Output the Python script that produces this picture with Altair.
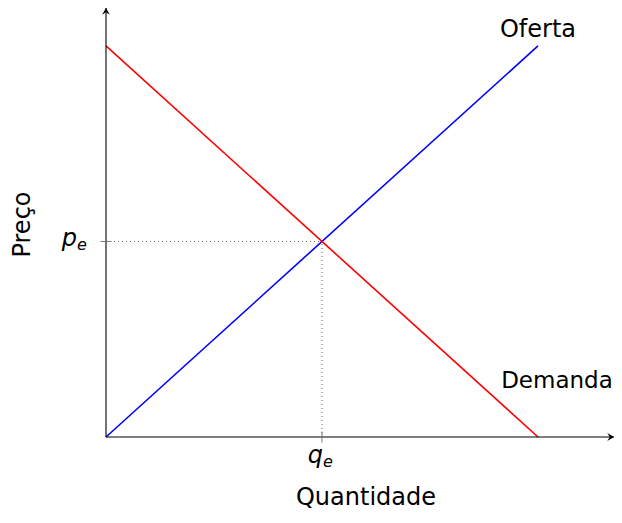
import altair as alt
import pandas as pd

# ---- data ----
quantity = [0, 10]
supply_price = [0, 10]
demand_price = [10, 0]
q_e = 5
p_e = 5
x_max = 11.76
y_max = 10.97

FONT = "DejaVu Sans"
W, H = 508, 429

xs = alt.Scale(domain=[0, x_max], nice=False, zero=False)
ys = alt.Scale(domain=[0, y_max], nice=False, zero=False)


def X(f="x"):
    return alt.X(f"{f}:Q", scale=xs, axis=None)


def Y(f="y"):
    return alt.Y(f"{f}:Q", scale=ys, axis=None)


lines_df = pd.DataFrame({
    "x": quantity + quantity,
    "y": supply_price + demand_price,
    "curva": ["Oferta"] * 2 + ["Demanda"] * 2,
})

curves = alt.Chart(lines_df).mark_line(strokeWidth=1.6).encode(
    x=X("x"), y=Y("y"), detail="curva:N",
    color=alt.Color("curva:N", scale=alt.Scale(domain=["Oferta", "Demanda"], range=["#0000ff", "#ff0000"]), legend=None),
)

dotted_df = pd.DataFrame({"x": [0, q_e], "y": [p_e, 0], "x2": [q_e, q_e], "y2": [p_e, p_e]})
dotted = alt.Chart(dotted_df).mark_rule(strokeDash=[1, 3], color="#666", strokeWidth=1).encode(
    x=X(), y=Y(), x2="x2:Q", y2="y2:Q")

axes_df = pd.DataFrame({"x": [0, 0], "y": [0, 0], "x2": [x_max, 0], "y2": [0, y_max]})
axes = alt.Chart(axes_df).mark_rule(color="black", strokeWidth=1.1).encode(
    x=X(), y=Y(), x2="x2:Q", y2="y2:Q")

arrow_up = "M0,0 L-0.55,0.95 L0,0.6 L0.55,0.95 Z"
arrow_right = "M0,0 L-0.95,-0.55 L-0.6,0 L-0.95,0.55 Z"
arrows = alt.layer(
    alt.Chart(pd.DataFrame({"x": [0], "y": [y_max]})).mark_point(
        shape=arrow_up, filled=True, color="black", opacity=1, size=200, strokeWidth=0).encode(x=X(), y=Y()),
    alt.Chart(pd.DataFrame({"x": [x_max], "y": [0]})).mark_point(
        shape=arrow_right, filled=True, color="black", opacity=1, size=200, strokeWidth=0).encode(x=X(), y=Y()),
)

ticks = alt.layer(
    alt.Chart(pd.DataFrame({"x": [0], "y": [p_e]})).mark_tick(
        orient="horizontal", size=11, thickness=1, color="#777", opacity=1).encode(x=X(), y=Y()),
    alt.Chart(pd.DataFrame({"x": [q_e], "y": [0]})).mark_tick(
        orient="vertical", size=11, thickness=1, color="#777", opacity=1).encode(x=X(), y=Y()),
)

zero_p = pd.DataFrame({"x": [0], "y": [p_e]})
zero_q = pd.DataFrame({"x": [q_e], "y": [0]})


def txt(df, text, size, align, dx, dy, italic=False, angle=0):
    kw = dict(text=text, font=FONT, fontSize=size, align=align, baseline="alphabetic",
              dx=dx, dy=dy, color="black", fontStyle="italic" if italic else "normal")
    if angle:
        kw["angle"] = angle
    return alt.Chart(df).mark_text(**kw).encode(x=X(), y=Y())


labels = alt.layer(
    txt(zero_p, "p", 24, "right", -29, 5, True),
    txt(zero_p, "e", 16, "left", -29, 9, True),
    txt(zero_q, "q", 24, "right", 1, 26, True),
    txt(zero_q, "e", 16, "left", 1, 30, True),
    txt(pd.DataFrame({"x": [quantity[-1]], "y": [supply_price[-1]]}), "Oferta", 24, "center", 0, -9),
    txt(pd.DataFrame({"x": [quantity[-1]], "y": [demand_price[-1]]}), "Demanda", 23, "center", 19, -49),
    # axis titles
    txt(pd.DataFrame({"x": [q_e], "y": [0]}), "Quantidade", 24, "center", 44, 68),
    txt(pd.DataFrame({"x": [0], "y": [y_max / 2]}), "Preço", 24, "center", -2, -76, angle=270),
)

chart = alt.layer(curves, dotted, axes, arrows, ticks, labels).properties(
    width=W, height=H,
    autosize=alt.AutoSizeParams(type="none"),
    padding={"left": 98, "top": 0, "right": 0, "bottom": 74},
).configure(
    background="white",
    view=alt.ViewConfig(stroke="transparent", strokeWidth=0),
)

chart.save("out.html", embed_options={"renderer": "svg", "actions": False})
